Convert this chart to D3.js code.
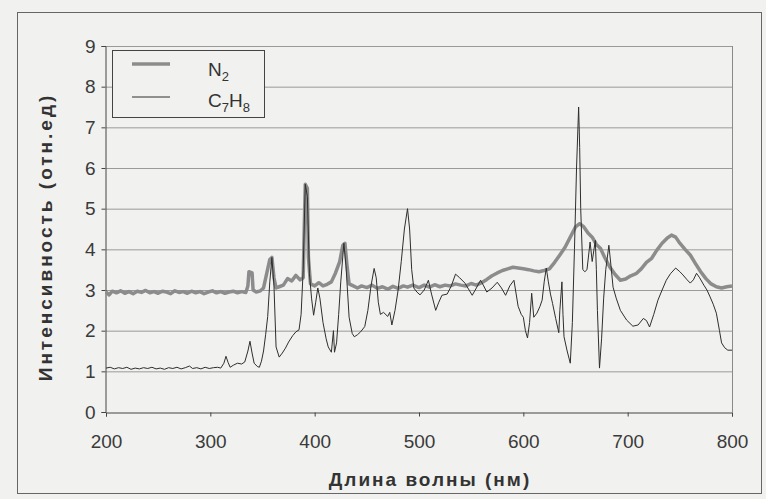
<!DOCTYPE html>
<html>
<head>
<meta charset="utf-8">
<script src="https://cdn.jsdelivr.net/npm/d3@7"></script>
<style>
  body { margin: 0; background: #f1f1ef; }
  svg { display: block; font-family: "Liberation Sans", Arial, sans-serif; }
</style>
</head>
<body>
<svg id="chart"></svg>
<script>
const width = 766;
const height = 499;

// wavelengths (nm) and intensities
const n2Wave = [200,203,206,210,214,218,222,226,230,234,238,242,246,250,254,258,262,266,270,274,278,282,286,290,294,298,302,306,310,314,318,322,326,330,334,336,337,340,341,344,348,351,354,357,359,361,363,366,370,374,378,382,386,389,390,391,393,394,396,400,404,408,412,416,420,424,427,429,431,433,437,441,445,450,455,460,465,470,475,480,485,489,494,500,505,510,515,520,525,530,535,540,545,550,555,560,565,570,575,580,585,590,595,600,605,610,615,620,625,630,635,640,645,650,654,658,662,666,670,674,678,683,688,693,698,703,708,713,718,723,728,733,738,742,746,750,755,760,765,770,775,780,785,790,795,800];
const n2Value = [2.95,2.88,2.97,2.93,2.98,2.92,2.96,2.91,2.97,2.94,2.99,2.93,2.96,2.92,2.97,2.95,2.91,2.98,2.94,2.96,2.92,2.97,2.93,2.96,2.91,2.95,2.98,2.93,2.96,2.92,2.95,2.97,2.93,2.96,2.94,3.1,3.45,3.42,3.0,2.95,2.98,3.05,3.4,3.75,3.8,3.3,3.05,3.08,3.12,3.28,3.22,3.36,3.25,3.3,4.5,5.6,5.5,3.8,3.15,3.1,3.18,3.1,3.14,3.2,3.42,3.7,4.1,4.15,3.6,3.15,3.1,3.05,3.1,3.06,3.12,3.04,3.08,3.02,3.09,3.04,3.1,3.07,3.12,3.06,3.12,3.07,3.13,3.08,3.12,3.1,3.15,3.12,3.1,3.16,3.12,3.18,3.26,3.35,3.42,3.48,3.52,3.56,3.54,3.52,3.5,3.47,3.45,3.48,3.52,3.68,3.86,4.05,4.3,4.55,4.63,4.55,4.4,4.3,4.12,4.02,3.8,3.56,3.38,3.24,3.27,3.35,3.4,3.52,3.68,3.78,3.98,4.15,4.28,4.35,4.3,4.15,4.0,3.86,3.65,3.45,3.28,3.15,3.08,3.05,3.08,3.1];

const c7h8Wave = [200,204,208,212,216,220,224,228,232,236,240,244,248,252,256,260,264,268,272,276,280,283,287,291,295,299,303,307,310,313,315,317,319,322,326,330,333,336,338,340,342,345,347,349,351,353,355,357,359,361,363,366,369,372,375,379,382,385,387,389,391,393,395,397,399,401,403,405,408,411,413,416,418,419,421,423,425,428,430,433,436,438,441,444,448,451,454,457,459,461,463,466,470,472,474,477,480,483,486,489,491,493,495,498,501,505,509,512,516,519,522,527,531,535,539,544,548,551,555,559,562,565,570,575,579,583,587,591,595,598,600,602,604,606,608,610,613,616,618,620,622,624,626,628,631,634,635,637,638,639,642,645,647,649,651,653,654,655,657,659,661,664,666,669,670,671,673,675,677,679,682,684,686,689,693,699,705,710,715,718,721,725,729,733,737,741,746,750,753,757,760,763,766,769,773,776,779,782,785,788,790,793,796,800];
const c7h8Value = [1.08,1.1,1.06,1.09,1.07,1.1,1.05,1.08,1.06,1.09,1.07,1.1,1.06,1.08,1.05,1.09,1.07,1.1,1.06,1.09,1.13,1.07,1.09,1.06,1.1,1.07,1.09,1.1,1.08,1.2,1.37,1.22,1.1,1.15,1.2,1.18,1.23,1.5,1.74,1.45,1.2,1.12,1.1,1.25,1.5,1.9,2.35,3.2,3.8,3.1,1.6,1.35,1.45,1.57,1.72,1.88,1.97,2.02,2.4,3.5,5.6,5.3,3.4,2.8,2.38,2.7,3.05,2.8,2.2,1.8,1.6,1.47,2.0,1.47,1.7,2.4,3.2,4.15,3.6,2.33,1.93,1.85,1.9,1.97,2.1,2.5,3.1,3.53,3.3,2.7,2.4,2.45,2.35,2.45,2.14,2.5,3.0,3.7,4.5,5.0,4.5,3.5,3.05,2.95,2.88,3.0,3.24,2.9,2.5,2.7,2.87,2.9,3.1,3.39,3.3,3.17,3.0,2.87,3.05,3.24,3.1,2.95,3.05,3.19,3.05,2.87,3.1,3.24,2.6,2.4,2.33,2.0,1.82,2.2,2.92,2.33,2.43,2.6,2.75,3.2,3.54,3.2,2.9,2.67,2.3,1.95,2.5,3.2,2.4,1.85,1.5,1.2,2.2,4.0,6.0,7.5,6.5,5.0,3.5,3.45,3.5,4.18,3.7,4.22,3.5,2.5,1.08,1.8,2.8,3.5,4.1,3.6,3.07,2.8,2.5,2.26,2.11,2.14,2.3,2.25,2.09,2.4,2.75,3.0,3.24,3.4,3.54,3.45,3.37,3.25,3.17,3.25,3.41,3.3,3.12,3.0,2.83,2.65,2.43,2.0,1.7,1.58,1.52,1.52];

const xTicks = [200, 300, 400, 500, 600, 700, 800];
const yTicks = [0, 1, 2, 3, 4, 5, 6, 7, 8, 9];

const n2 = n2Wave.map((w, i) => [w, n2Value[i]]);
const c7h8 = c7h8Wave.map((w, i) => [w, c7h8Value[i]]);

const svg = d3.select("#chart")
              .attr("width", width)
              .attr("height", height);

// outer frame of the chart area
svg.append("rect")
   .attr("x", 17.5).attr("y", 12.5)
   .attr("width", 744).attr("height", 481)
   .attr("fill", "none")
   .attr("stroke", "#666")
   .attr("stroke-width", 1);

const xScale = d3.scaleLinear().domain([200, 800]).range([106, 732]);
const yScale = d3.scaleLinear().domain([0, 9]).range([412, 46]);

// gridlines
svg.append("g")
   .selectAll("line")
   .data(yTicks.filter(d => d > 0))
   .enter()
   .append("line")
   .attr("x1", xScale(200)).attr("x2", xScale(800))
   .attr("y1", d => yScale(d) + 0.5).attr("y2", d => yScale(d) + 0.5)
   .attr("stroke", "#9a9a9a")
   .attr("stroke-width", 1);

// right border of plot area
svg.append("line")
   .attr("x1", xScale(800) + 0.5).attr("x2", xScale(800) + 0.5)
   .attr("y1", yScale(9)).attr("y2", yScale(0))
   .attr("stroke", "#8a8a8a");

const xAxis = d3.axisBottom(xScale).tickValues(xTicks).tickSize(4).tickPadding(18);
const yAxis = d3.axisLeft(yScale).tickValues(yTicks).tickSize(4).tickPadding(6);

const gx = svg.append("g")
              .attr("transform", `translate(0, ${yScale(0) + 0.5})`)
              .call(xAxis);
const gy = svg.append("g")
              .attr("transform", `translate(${xScale(200) - 0.5}, 0)`)
              .call(yAxis);

[gx, gy].forEach(g => {
    g.select(".domain").attr("stroke", "#444");
    g.selectAll(".tick line").attr("stroke", "#444");
    g.selectAll(".tick text")
     .attr("fill", "#3a3a3a")
     .style("font-size", "19px");
});

const line = d3.line()
               .x(d => xScale(d[0]))
               .y(d => yScale(d[1]));

svg.append("path")
   .datum(n2)
   .attr("d", line)
   .attr("fill", "none")
   .attr("stroke", "#8c8c8c")
   .attr("stroke-width", 3.5)
   .attr("stroke-linejoin", "round");

svg.append("path")
   .datum(c7h8)
   .attr("d", line)
   .attr("fill", "none")
   .attr("stroke", "#2e2e2e")
   .attr("stroke-width", 1)
   .attr("stroke-linejoin", "round");

// axis titles
svg.append("text")
   .attr("x", 430)
   .attr("y", 486)
   .attr("text-anchor", "middle")
   .attr("fill", "#333")
   .style("font-size", "19px")
   .style("font-weight", "bold")
   .style("letter-spacing", "2px")
   .text("Длина волны (нм)");

svg.append("text")
   .attr("transform", "translate(52, 237) rotate(-90)")
   .attr("text-anchor", "middle")
   .attr("fill", "#333")
   .style("font-size", "19px")
   .style("font-weight", "bold")
   .style("letter-spacing", "3px")
   .text("Интенсивность (отн.ед)");

// legend
const legend = svg.append("g");
legend.append("rect")
      .attr("x", 112.5).attr("y", 50.5)
      .attr("width", 152).attr("height", 67)
      .attr("fill", "#f1f1ef")
      .attr("stroke", "#444");
legend.append("line")
      .attr("x1", 132).attr("x2", 170)
      .attr("y1", 64).attr("y2", 64)
      .attr("stroke", "#8c8c8c")
      .attr("stroke-width", 3.5);
legend.append("line")
      .attr("x1", 132).attr("x2", 170)
      .attr("y1", 97).attr("y2", 97)
      .attr("stroke", "#2e2e2e")
      .attr("stroke-width", 1);

const n2Label = legend.append("text")
                      .attr("x", 208).attr("y", 76)
                      .attr("fill", "#333")
                      .style("font-size", "19px");
n2Label.append("tspan").text("N");
n2Label.append("tspan").attr("dy", 5).style("font-size", "13px").text("2");

const c7Label = legend.append("text")
                      .attr("x", 208).attr("y", 107)
                      .attr("fill", "#333")
                      .style("font-size", "19px");
c7Label.append("tspan").text("C");
c7Label.append("tspan").attr("dy", 5).style("font-size", "13px").text("7");
c7Label.append("tspan").attr("dy", -5).text("H");
c7Label.append("tspan").attr("dy", 5).style("font-size", "13px").text("8");
</script>
</body>
</html>
